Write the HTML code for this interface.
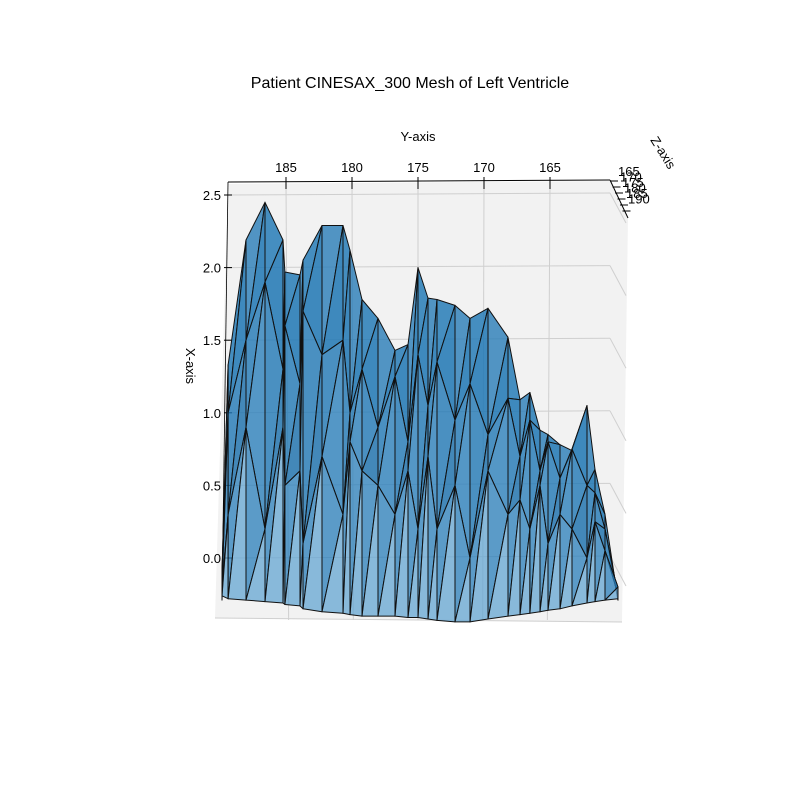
<!DOCTYPE html>
<html><head><meta charset="utf-8"><style>
body{margin:0;background:#fff}
svg{display:block;font-family:"Liberation Sans",sans-serif}
</style></head><body>
<svg id="chart" width="800" height="800" viewBox="0 0 800 800">
<rect width="800" height="800" fill="#fff"/>
<text x="410" y="88" font-size="16" text-anchor="middle">Patient CINESAX_300 Mesh of Left Ventricle</text>
<g id="axes"></g>
<g id="mesh"></g>
<text x="418" y="141" font-size="13" text-anchor="middle">Y-axis</text>
<text x="0" y="0" font-size="13" text-anchor="middle" transform="translate(186,366) rotate(90)">X-axis</text>
<text x="0" y="0" font-size="13" transform="translate(650,140) rotate(58)">Z-axis</text>
</svg>
<script>
const yTicks=[185,180,175,170,165];
const hTicks=[2.5,2.0,1.5,1.0,0.5,0.0];
const zTicks=[165,170,175,180,185,190];
const colY=[189.85,189.39,188.03,186.59,185.23,185.08,183.94,183.71,182.27,180.68,180.15,179.24,178.03,176.74,175.76,175.0,174.24,173.56,172.2,171.06,169.7,168.18,167.27,166.52,165.76,165.15,164.24,163.33,162.2,161.59,160.83,159.85];
const topH=[-0.29,1.33,2.19,2.45,2.19,1.97,1.95,2.05,2.29,2.29,2.12,1.78,1.65,1.43,1.47,2.0,1.79,1.78,1.74,1.65,1.72,1.52,1.09,1.14,0.88,0.85,0.78,0.74,1.05,0.61,0.30,-0.29];
const upH=[-0.1,1.0,1.5,1.9,1.3,1.6,1.2,1.7,1.4,1.5,1.0,1.3,0.9,1.25,0.8,1.4,1.05,1.35,0.95,1.2,0.85,1.1,0.7,0.95,0.6,0.8,0.55,0.75,0.5,0.45,0.2,-0.25];
const midH=[-0.2,0.3,0.9,0.2,0.9,0.5,0.6,0.1,0.7,0.3,0.8,0.6,0.5,0.3,0.6,0.2,0.7,0.2,0.5,0.0,0.6,0.3,0.4,0.2,0.5,0.1,0.3,0.2,0.0,0.25,0.05,-0.2];
const botH=[-0.26,-0.28,-0.29,-0.3,-0.31,-0.32,-0.33,-0.35,-0.37,-0.38,-0.39,-0.4,-0.4,-0.4,-0.41,-0.41,-0.42,-0.43,-0.44,-0.44,-0.42,-0.4,-0.39,-0.38,-0.37,-0.36,-0.35,-0.33,-0.31,-0.3,-0.29,-0.28];
const NS='http://www.w3.org/2000/svg';
const sx=y=>286+(185-y)*13.2;
const sy=h=>558-h*145.2;
const axes=document.getElementById('axes');
function mk(tag,attrs,parent){const e=document.createElementNS(NS,tag);for(const k in attrs)e.setAttribute(k,attrs[k]);parent.appendChild(e);return e;}
let pane=mk('polygon',{points:'228,184 610,181 628,218 622,622 215,618',fill:'#f2f2f2',stroke:'none'},axes);


hTicks.forEach(h=>{
 let l=mk('line',{x1:228,y1:sy(h),x2:610,y2:sy(h)-2,stroke:'#cfcfcf'},axes);
 
 
 let l2=mk('line',{x1:610,y1:sy(h)-2,x2:626,y2:sy(h)+28,stroke:'#cfcfcf'},axes);
 
 
 let t=mk('text',{x:221,y:sy(h)+5,'font-size':13,'text-anchor':'end'},axes);t.textContent=h.toFixed(1);
 
 
 let tk=mk('line',{x1:224,y1:sy(h),x2:232,y2:sy(h),stroke:'#000'},axes);
 
 
});
yTicks.forEach(y=>{
 let l=mk('line',{x1:sx(y),y1:184,x2:sx(y)-(sx(y)-418)*0.02,y2:620,stroke:'#cfcfcf'},axes);
 
 
 let tk=mk('line',{x1:sx(y),y1:177,x2:sx(y),y2:189,stroke:'#000'},axes);
 
 
 let t=mk('text',{x:sx(y),y:172,'font-size':13,'text-anchor':'middle'},axes);t.textContent=y;
 
 
});
zTicks.forEach((z,i)=>{
 let t=mk('text',{x:618+i*2,y:176+i*5.5,'font-size':13},axes);t.textContent=z;
 
 
 let tk=mk('line',{x1:610+i*2.5,y1:181+i*6,x2:618+i*2.5,y2:181+i*6,stroke:'#000'},axes);
 
 
});
let ax1=mk('line',{x1:228,y1:182,x2:610,y2:180,stroke:'#000'},axes);

let ax2=mk('line',{x1:228,y1:182,x2:222,y2:600,stroke:'#000','stroke-width':0.8},axes);

let ax3=mk('line',{x1:610,y1:180,x2:628,y2:218,stroke:'#000'},axes);

let fl=mk('line',{x1:215,y1:618,x2:622,y2:622,stroke:'#cfcfcf'},axes);

const mesh=document.getElementById('mesh');
function tri(a,b,c,fill){
 const p=mk('polygon',{points:[a,b,c].map(v=>sx(v[0]).toFixed(1)+','+sy(v[1]).toFixed(1)).join(' '),fill:fill,'stroke':'#111','stroke-width':1,'stroke-linejoin':'round'},mesh);
 
 
}
for(let i=0;i<colY.length-1;i++){
 const T0=[colY[i],topH[i]],T1=[colY[i+1],topH[i+1]],U0=[colY[i],upH[i]],U1=[colY[i+1],upH[i+1]],M0=[colY[i],midH[i]],M1=[colY[i+1],midH[i+1]],B0=[colY[i],botH[i]],B1=[colY[i+1],botH[i+1]];
 tri(T0,T1,U0,i%2?'rgba(31,119,180,0.82)':'rgba(36,122,182,0.78)');
 tri(T1,U1,U0,'rgba(31,119,180,0.85)');
 tri(U0,U1,M0,'rgba(31,119,180,0.8)');
 tri(U1,M1,M0,i%2?'rgba(28,112,172,0.82)':'rgba(40,126,186,0.78)');
 tri(M0,M1,B0,'rgba(40,126,186,0.75)');
 tri(M1,B1,B0,'rgba(100,165,210,0.75)');
}
</script>
</body></html>
